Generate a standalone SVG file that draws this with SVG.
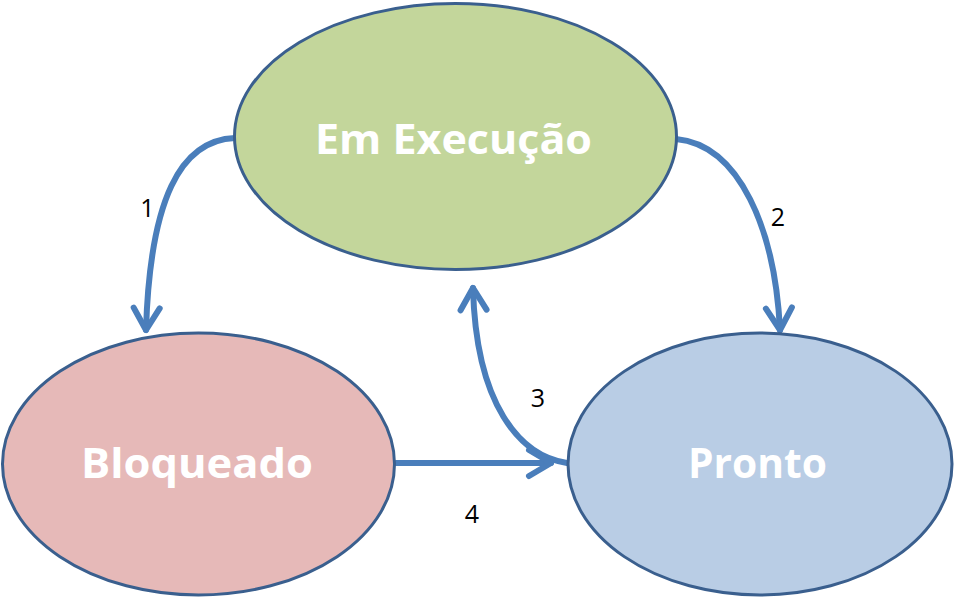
<svg xmlns="http://www.w3.org/2000/svg" width="957" height="611" viewBox="0 0 957 611">
<defs>
<style>
.node{stroke:#3A5F8E;stroke-width:3}
.lbl{font-family:"Open Sans","Noto Sans",sans-serif;font-weight:bold;fill:#FFFFFF;text-anchor:middle}
.num{font-family:"Open Sans","Noto Sans",sans-serif;font-size:25px;fill:#000000;text-anchor:middle}
.conn{fill:none;stroke:#4A7EBB;stroke-width:6;stroke-linecap:round}
</style>
<marker id="arr" markerUnits="userSpaceOnUse" viewBox="-30 -20 36 40" refX="0" refY="0" markerWidth="36" markerHeight="40" orient="auto" overflow="visible">
<path d="M -22,-13 L 0,0 L -22,13" fill="none" stroke="#4A7EBB" stroke-width="6" stroke-linecap="round" stroke-linejoin="round"/>
</marker>
</defs>
<rect width="957" height="611" fill="#FFFFFF"/>
<g id="connectors">
<path class="conn" d="M 235,138 C 180,140 150,200 146,330" marker-end="url(#arr)"/>
<path class="conn" d="M 676,139 C 740,145 775,230 780,330" marker-end="url(#arr)"/>
<path class="conn" d="M 567,463 C 520,456 476,405 473,288" marker-end="url(#arr)"/>
<path class="conn" d="M 396,463 L 551,463" marker-end="url(#arr)"/>
</g>
<g id="em-execucao">
<ellipse class="node" cx="455.5" cy="136.5" rx="221" ry="133" fill="#C3D69B"/>
<text class="lbl" x="453.5" y="154" font-size="42" textLength="277" lengthAdjust="spacingAndGlyphs">Em Execução</text>
</g>
<g id="bloqueado">
<ellipse class="node" cx="198.5" cy="464" rx="196" ry="131" fill="#E6B9B8"/>
<text class="lbl" x="197" y="478" font-size="42" textLength="232" lengthAdjust="spacingAndGlyphs">Bloqueado</text>
</g>
<g id="pronto">
<ellipse class="node" cx="760" cy="464" rx="192" ry="131" fill="#B9CDE5"/>
<text class="lbl" x="757.5" y="478" font-size="42" textLength="139" lengthAdjust="spacingAndGlyphs">Pronto</text>
</g>
<g id="labels">
<text class="num" x="147.5" y="217">1</text>
<text class="num" x="778" y="226">2</text>
<text class="num" x="538" y="407">3</text>
<text class="num" x="472" y="523">4</text>
</g>
</svg>
